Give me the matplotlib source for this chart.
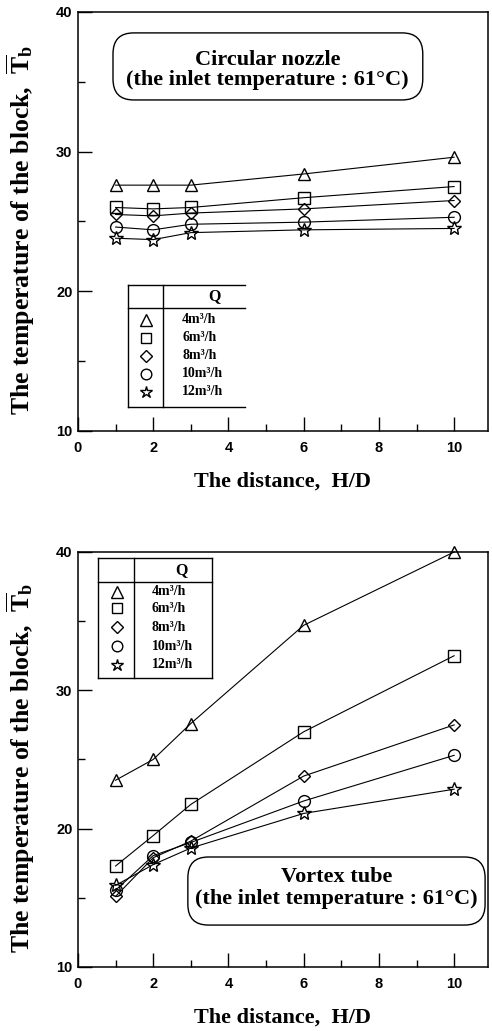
import matplotlib
matplotlib.use('Agg')
import matplotlib.pyplot as plt
from matplotlib.patches import FancyBboxPatch
from matplotlib.ticker import MultipleLocator

# data
hd = [1, 2, 3, 6, 10]
flow_labels = ['4m³/h', '6m³/h', '8m³/h', '10m³/h', '12m³/h']

nozzle_q4 = [27.6, 27.6, 27.6, 28.4, 29.6]
nozzle_q6 = [26.0, 25.9, 26.0, 26.7, 27.5]
nozzle_q8 = [25.5, 25.4, 25.6, 25.9, 26.5]
nozzle_q10 = [24.6, 24.4, 24.8, 24.95, 25.3]
nozzle_q12 = [23.8, 23.7, 24.2, 24.4, 24.5]

vortex_q4 = [23.5, 25.0, 27.6, 34.7, 40.0]
vortex_q6 = [17.3, 19.5, 21.75, 27.0, 32.5]
vortex_q8 = [15.1, 17.9, 19.1, 23.8, 27.5]
vortex_q10 = [15.55, 18.05, 19.0, 22.0, 25.3]
vortex_q12 = [15.9, 17.4, 18.6, 21.1, 22.85]

markers = ['^', 's', 'D', 'o', '*']
msizes = [9, 8, 6.5, 8.5, 10]

serif = 'Liberation Serif'
sans = 'Liberation Sans'
plt.rcParams['mathtext.fontset'] = 'custom'
plt.rcParams['mathtext.rm'] = 'Liberation Serif:bold'
plt.rcParams['mathtext.it'] = 'Liberation Serif:bold'
plt.rcParams['mathtext.bf'] = 'Liberation Serif:bold'

fig = plt.figure(figsize=(4.92, 10.31), dpi=100)
ax1 = fig.add_axes([0.1585, 0.5820, 0.8333, 0.4064])
ax2 = fig.add_axes([0.1585, 0.0621, 0.8333, 0.4025])


def style_axes(ax):
    ax.set_xlim(0, 10.9)
    ax.set_ylim(10, 40)
    ax.xaxis.set_major_locator(MultipleLocator(2))
    ax.xaxis.set_minor_locator(MultipleLocator(1))
    ax.yaxis.set_major_locator(MultipleLocator(10))
    ax.yaxis.set_minor_locator(MultipleLocator(5))
    ax.tick_params(which='both', direction='in', width=1.0, top=False, right=False)
    ax.tick_params(which='major', length=10)
    ax.tick_params(which='minor', length=5)
    ax.tick_params(axis='x', pad=7)
    ax.tick_params(axis='y', pad=4)
    for lab in ax.get_xticklabels() + ax.get_yticklabels():
        lab.set_fontfamily(sans)
        lab.set_fontweight('bold')
        lab.set_fontsize(10.5)
    for sp in ax.spines.values():
        sp.set_linewidth(1.1)
    ax.set_xlabel('The distance,  H/D', fontfamily=serif, fontweight='bold', fontsize=16)
    ax.xaxis.set_label_coords(0.5, -0.097)
    ax.set_ylabel(r'The temperature of the block,  $\overline{\mathrm{T}}_{\mathrm{b}}$',
                  fontfamily=serif, fontweight='bold', fontsize=18.5)
    ax.yaxis.set_label_coords(-0.10, 0.48)


def draw_series(ax, series):
    for vals, mk, ms in zip(series, markers, msizes):
        ax.plot(hd, vals, color='black', lw=0.8, marker=mk, ms=ms,
                mfc='none', mec='black', mew=1.0, clip_on=False, zorder=3)


def draw_table(ax, x0, xdiv, x1, ytop, yhead, ybot, rows, xmark, xtext, xq, yq, right=True):
    kw = dict(transform=ax.transAxes, color='black', lw=1.0, clip_on=False)
    ax.plot([x0, x1], [ytop, ytop], **kw)
    ax.plot([x0, x1], [yhead, yhead], **kw)
    ax.plot([x0, x1], [ybot, ybot], **kw)
    ax.plot([x0, x0], [ybot, ytop], **kw)
    ax.plot([xdiv, xdiv], [ybot, ytop], **kw)
    if right:
        ax.plot([x1, x1], [ybot, ytop], **kw)
    ax.text(xq, yq, 'Q', transform=ax.transAxes, ha='center', va='center',
            fontfamily=serif, fontweight='bold', fontsize=11.5)
    for y, mk, ms, lab in zip(rows, markers, msizes, flow_labels):
        ax.plot([xmark], [y], transform=ax.transAxes, marker=mk, ms=ms * 0.9,
                mfc='none', mec='black', mew=1.0, ls='none', clip_on=False)
        ax.text(xtext, y, lab, transform=ax.transAxes, ha='left', va='center',
                fontfamily=serif, fontweight='bold', fontsize=10)


def draw_note(ax, x0, y0, x1, y1, line1, line2, xc, yl1, yl2):
    box = FancyBboxPatch((x0, y0), x1 - x0, y1 - y0,
                         boxstyle='round,pad=0,rounding_size=0.05',
                         transform=ax.transAxes, fc='white', ec='black', lw=1.0)
    ax.add_patch(box)
    ax.text(xc, yl1, line1, transform=ax.transAxes, ha='center', va='center',
            fontfamily=serif, fontweight='bold', fontsize=16)
    ax.text(xc, yl2, line2, transform=ax.transAxes, ha='center', va='center',
            fontfamily=serif, fontweight='bold', fontsize=16)


# top: circular nozzle
style_axes(ax1)
draw_series(ax1, [nozzle_q4, nozzle_q6, nozzle_q8, nozzle_q10, nozzle_q12])
draw_note(ax1, 0.0854, 0.790, 0.841, 0.950, 'Circular nozzle',
          '(the inlet temperature : 61°C)', 0.463, 0.885, 0.838)
draw_table(ax1, 0.121, 0.208, 0.407, 0.348, 0.294, 0.057,
           [0.265, 0.223, 0.180, 0.137, 0.094], 0.166, 0.254, 0.334, 0.321, right=False)

# bottom: vortex tube
style_axes(ax2)
draw_series(ax2, [vortex_q4, vortex_q6, vortex_q8, vortex_q10, vortex_q12])
draw_note(ax2, 0.268, 0.101, 0.993, 0.265, 'Vortex tube',
          '(the inlet temperature : 61°C)', 0.630, 0.218, 0.165)
draw_table(ax2, 0.0495, 0.137, 0.326, 0.985, 0.928, 0.696,
           [0.904, 0.864, 0.819, 0.773, 0.728], 0.094, 0.180, 0.253, 0.957)

fig.savefig('out.png', dpi=100, facecolor='white')
